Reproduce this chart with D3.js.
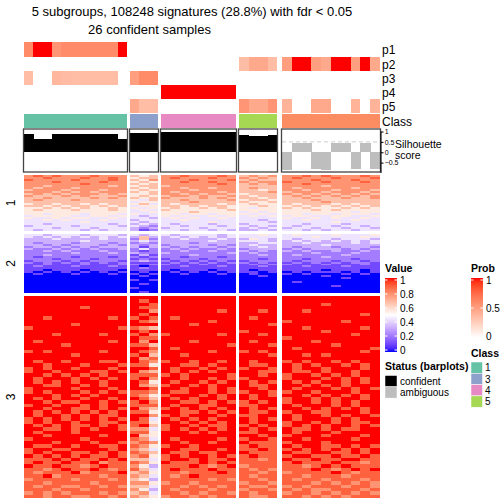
<!DOCTYPE html>
<html><head><meta charset="utf-8">
<script src="https://cdn.jsdelivr.net/npm/d3@7"></script>
<style>body{margin:0;background:#fff}svg{display:block}text{font-family:"Liberation Sans",Arial,sans-serif}</style>
</head><body>
<script>
// ---------------- DATA ----------------
const titleLine1 = "5 subgroups, 108248 signatures (28.8%) with fdr < 0.05";
const titleLine2 = "26 confident samples";
const groupClass = ["1", "3", "4", "5", "2"];
const groupSize = [11, 3, 8, 4, 10];
const classColors = {"1": "#66C2A5", "2": "#FC8D62", "3": "#8DA0CB", "4": "#E78AC3", "5": "#A6D854"};
const legendClasses = ["1", "3", "4", "5"];
const probRows = ["p1", "p2", "p3", "p4", "p5"];
// per-column probabilities (columns in display order)
const p1 = [0.6,1,1,0.55,0.6,0.6,0.6,0.6,0.6,0.6,1, 0,0,0, 0,0,0,0,0,0,0,0, 0,0,0,0, 0,0,0,0,0,0,0,0,0,0];
const p2 = [0,0,0,0,0,0,0,0,0,0,0, 0,0,0, 0,0,0,0,0,0,0,0, 0.35,0.45,0.45,0.35, 0.5,1,1,0.5,0.45,1,1,0.5,1,0.45];
const p3 = [0.35,0,0,0.38,0.36,0.35,0.35,0.35,0.35,0.35,0, 0.5,0.6,0.6, 0,0,0,0,0,0,0,0, 0,0,0,0, 0,0,0,0,0,0,0,0,0,0];
const p4 = [0,0,0,0,0,0,0,0,0,0,0, 0,0,0, 1,1,1,1,1,1,1,1, 0,0,0,0, 0,0,0,0,0,0,0,0,0,0];
const p5 = [0,0,0,0,0,0,0,0,0,0,0, 0.45,0.35,0.35, 0,0,0,0,0,0,0,0, 0.55,0.45,0.45,0.55, 0.4,0,0,0.45,0.45,0,0,0.4,0,0.4];
const silhouette = [0.87,0.63,0.63,0.87,0.87,0.87,0.87,0.87,0.87,0.87,0.63, 0.91,0.95,0.95,
  0.99,0.99,0.99,0.99,0.99,0.99,0.99,0.99, 0.82,0.77,0.77,0.82,
  -0.85,0.44,0.44,-0.79,-0.85,0.44,0.44,-0.79,0.44,-0.79];
const confident = [1,1,1,1,1,1,1,1,1,1,1, 1,1,1, 1,1,1,1,1,1,1,1, 1,1,1,1, 0,0,0,0,0,0,0,0,0,0];
const silTicks = [1, 0.5, 0, -0.5];
const valueTicks = [0, 0.2, 0.4, 0.6, 0.8, 1];
const probTicks = [0, 0.5, 1];
const sliceLabels = ["1", "2", "3"];
// heatmap values, one string per row, digit d means value d/9 (groups separated by spaces)
const slice1 = [
"78787778777 656 77877787 6767 7787877787",
"77877787787 566 78777877 7676 7877787778",
"87777877787 657 77787778 6766 7778777877",
"77787777877 565 77877877 7677 8777877787",
"77777787777 656 77777787 6767 7787777777",
"77677777767 566 67777777 6666 7777677777",
"76777677777 656 77677677 6766 7677777677",
"67776777677 565 77767777 6656 7767767776",
"77767676777 656 76777767 6667 6777677767",
"67676777676 556 77676776 5666 7676767676",
"76667676667 565 67767667 6566 6767676767",
"66766667676 656 76667676 6656 6676667667",
"67666766666 546 66766667 5665 6667666666",
"66666666666 455 66676666 6556 6666766666",
"56656656566 564 65666656 5655 6566656566",
"66565665656 455 66565665 5565 5656565656",
"55656565565 545 56556565 5455 6565556565",
"56555655565 454 65555556 5555 5556565555",
"55555555555 445 55565555 4545 5555555455",
"55455545554 544 55455455 5454 5545545554",
"45555445545 434 54544545 4545 4554455445",
"54454554454 443 45454454 4444 5445454454",
"44545444544 344 44544444 4434 4454444544",
"44444454444 434 44444544 4443 4444454444",
"44344444434 343 43444344 3444 4434443444",
"34444344443 432 44344434 4343 4344434434",
"44434443444 323 34443444 3434 3443443443",
"43444434344 312 44344343 3343 4434344344"];
const slice2 = [
"44344434443 434 43444434 4454 4544454445",
"43434343434 363 34343434 4444 4445444454",
"33343333433 262 33433343 3543 4344434443",
"33333343333 343 33333433 4443 3434343434",
"32333233323 232 33323333 3344 3343333434",
"33232333232 323 23333232 3433 3333433333",
"23323232333 313 32323323 3343 3233323332",
"32232323223 242 23232232 2333 2323332323",
"22323222322 212 22322322 3232 3232232232",
"22222322232 322 32222223 2322 2223222322",
"22322222222 131 22232222 2232 2322223222",
"21222122212 212 22122212 2222 2222322222",
"22212221222 121 12221222 2212 2212222122",
"12221212221 232 21212121 1222 2122212212",
"21212121212 111 12121212 2121 1212121221",
"11211121112 212 21112111 1212 2111211121",
"12111211121 101 11211121 1121 1121112111",
"11111111111 121 11111111 1111 1111111111",
"11011101110 111 10111011 1011 1111011101",
"10101010101 010 01010101 1101 0101110101",
"01000100010 101 00100010 0100 1010001010",
"00000000000 010 00000000 0010 0000100000",
"00000000000 000 00000000 0000 0000001000",
"00000000000 101 00000000 0000 0000000000",
"00000000000 000 00000000 0000 0100000000",
"00000000000 010 00000000 0000 0000000000",
"00000000000 000 00000000 0000 0000010000",
"00000000000 100 00000000 0000 0000000000",
"00000000000 000 00000000 0000 0000000000",
"00000000000 010 00000000 0000 0000000000"];
const slice3 = [
"99999999999 999 99999999 9999 9999999999",
"99999999999 989 99999999 9999 9999999999",
"99999999999 998 99999999 9999 9999899999",
"99999989999 988 99999999 9999 9999999999",
"99999999999 997 99999989 9989 9989999999",
"99999999999 989 99999999 9999 9999999989",
"99899999989 898 98999999 9899 9999999999",
"99999999999 987 99999899 9999 8999998999",
"99999899999 999 99989999 9998 9999999999",
"89999999998 876 99999999 9999 9989999989",
"99999999999 989 99999999 8999 9999899999",
"99989999899 897 89999989 9989 9999999899",
"99999999999 988 99999999 9999 8999999999",
"98999999989 979 99989999 9899 9998999999",
"99998999999 886 99999998 9998 9999989999",
"99999999999 998 98999999 9999 9899999998",
"89899999899 987 99999899 8989 9999999989",
"99999899999 896 99899999 9998 9989899999",
"99999999999 978 99999999 9999 9999999999",
"98998999889 987 89989989 9899 8989989899",
"99899989998 885 99889899 9889 9898998989",
"89899899989 998 98998989 8998 9899899989",
"89989998898 976 98989899 9988 9889899899",
"99898989899 888 89899998 9989 8998989899",
"98999898989 897 99899898 8999 8999898989",
"98989899899 985 98998989 9898 9898998989",
"99889989899 976 89989899 9889 9989898999",
"89999899989 998 99899898 9989 9899989898",
"89899989898 887 98899898 8998 8998999899",
"99989898999 875 89998989 9898 9989898989",
"98989989989 986 98989989 9899 8998989989",
"99898899898 897 99889898 8989 8998989899",
"89989989899 888 98998899 8899 9899989899",
"99899889898 976 89898989 9898 9989898989",
"98989898989 885 99889898 9889 8998899989",
"98998989889 997 89899989 8899 9899898998",
"89898989898 984 98989899 9898 9899989899",
"89899899889 885 99898989 9899 8998989889",
"98989889898 896 89989889 8989 8989899898",
"99889898998 774 89898989 9898 9889898899",
"98999899999 885 99989899 8899 9899989999",
"99899999899 965 99999999 9989 8999899989",
"89999989999 874 98999989 8998 9989999899",
"99989998998 787 99899899 9888 8999899999",
"98899899889 875 89989999 8988 9899889898",
"89988999989 764 99889989 8898 8989898989",
"89899889898 876 98898899 9888 9889988989",
"98989898898 785 89899898 8988 8998898898",
"88898988989 664 89989889 8878 9889889988",
"89889889788 875 98889898 8888 8988898878",
"98898878988 753 88898789 7888 8878989888",
"88789889878 864 89888988 8787 8889878989",
"87888978889 675 88788898 8878 7888898788",
"88978888788 764 87898888 8788 8878887888",
"78888788878 653 88888787 8878 8788788878",
"88788887888 775 78878888 7887 8887878787",
"87887788787 664 88787878 8778 7878887887",
"88878878888 753 87888788 7887 8787788878",
"78787888787 674 88787887 8788 7887878787",
"88788778878 765 78878788 8778 8878787888"];
const slices = [slice1, slice2, slice3];

// ---------------- LAYOUT ----------------
const W = 504, H = 504;
const groupX = [[24, 127], [130, 158], [161, 236], [239, 277], [282, 380]];
const annoY = {p1: [42, 57], p2: [57, 71], p3: [71, 85], p4: [85, 99], p5: [99, 113]};
const classY = [114, 128];
const silBox = [129, 172];
const sliceY = [[175, 231], [234, 293], [296, 498]];

const svg = d3.select("body").append("svg").attr("width", W).attr("height", H);

const valueColor = d3.scaleLinear().domain([0, 0.5, 1]).range(["blue", "white", "red"]).interpolate(d3.interpolateLab);
const probColor = d3.scaleLinear().domain([0, 1]).range(["white", "red"]).interpolate(d3.interpolateLab);

// build columns
const columns = [];
let ci = 0;
groupSize.forEach((n, g) => {
  const xs = d3.scaleBand().domain(d3.range(n)).range(groupX[g]).paddingInner(0).paddingOuter(0);
  for (let k = 0; k < n; k++) {
    columns.push({idx: ci, g, k, x: xs(k), w: xs.bandwidth(), cls: groupClass[g]});
    ci++;
  }
});
const probs = {p1, p2, p3, p4, p5};

// titles
svg.append("text").attr("x", 192).attr("y", 16).attr("text-anchor", "middle").attr("font-size", 13).text(titleLine1);
svg.append("text").attr("x", 149.5).attr("y", 34).attr("text-anchor", "middle").attr("font-size", 13).text(titleLine2);

// probability annotation rows
probRows.forEach(r => {
  const [y0, y1] = annoY[r];
  svg.append("g").selectAll("rect").data(columns).join("rect")
    .attr("x", d => d.x).attr("y", y0).attr("width", d => d.w).attr("height", y1 - y0)
    .attr("fill", d => probColor(probs[r][d.idx])).attr("shape-rendering", "crispEdges");
  svg.append("text").attr("x", 382).attr("y", (y0 + y1) / 2 + 4.5).attr("font-size", 12).text(r);
});
// class row
svg.append("g").selectAll("rect").data(columns).join("rect")
  .attr("x", d => d.x).attr("y", classY[0]).attr("width", d => d.w + 0.3).attr("height", classY[1] - classY[0])
  .attr("fill", d => classColors[d.cls]).attr("shape-rendering", "crispEdges");
svg.append("text").attr("x", 382).attr("y", (classY[0] + classY[1]) / 2 + 4.5).attr("font-size", 12).text("Class");

// silhouette
const sy = d3.scaleLinear().domain([-1, 1]).range([173, 131.5]);
const silG = svg.append("g");
groupX.forEach(([x0, x1]) => {
  silG.append("line").attr("x1", x0).attr("x2", x1).attr("y1", sy(0.5)).attr("y2", sy(0.5))
    .attr("stroke", "#cccccc").attr("stroke-dasharray", "4,3").attr("stroke-width", 1);
});
silG.selectAll("rect.bar").data(columns).join("rect").attr("class", "bar")
  .attr("x", d => d.x).attr("width", d => d.w + 0.3)
  .attr("y", d => Math.min(sy(silhouette[d.idx]), sy(0)))
  .attr("height", d => Math.abs(sy(silhouette[d.idx]) - sy(0)))
  .attr("fill", d => confident[d.idx] ? "black" : "#BEBEBE").attr("shape-rendering", "crispEdges");
groupX.forEach(([x0, x1]) => {
  silG.append("rect").attr("x", x0 - 0.5).attr("y", silBox[0]).attr("width", x1 - x0 + 1).attr("height", silBox[1] - silBox[0])
    .attr("fill", "none").attr("stroke", "#444").attr("stroke-width", 1.3);
});
const silAxis = d3.axisRight(sy).tickValues(silTicks).tickSize(2.5).tickPadding(1.2).tickFormat(d3.format("~g"));
const ax = svg.append("g").attr("transform", "translate(381,0)").call(silAxis);
ax.select(".domain").attr("d", `M0,${sy(1)}V${sy(-1)}`).attr("stroke", "black");
ax.selectAll("text").attr("font-size", 7).attr("font-family", "Liberation Sans, Arial, sans-serif");
svg.append("text").attr("x", 395).attr("y", 148).attr("font-size", 10.5).text("Silhouette");
svg.append("text").attr("x", 395).attr("y", 158.5).attr("font-size", 10.5).text("score");

// heatmap
slices.forEach((rows, s) => {
  const ys = d3.scaleBand().domain(d3.range(rows.length)).range(sliceY[s]);
  const cells = [];
  rows.forEach((str, r) => {
    const digits = str.replace(/ /g, "");
    columns.forEach(c => cells.push({c, r, v: +digits[c.idx] / 9}));
  });
  svg.append("g").selectAll("rect").data(cells).join("rect")
    .attr("x", d => d.c.x).attr("y", d => ys(d.r))
    .attr("width", d => d.c.w + 0.3).attr("height", ys.bandwidth() + 0.3)
    .attr("fill", d => valueColor(d.v)).attr("shape-rendering", "crispEdges");
  const cy = (sliceY[s][0] + sliceY[s][1]) / 2;
  svg.append("text").attr("transform", `translate(15,${cy}) rotate(-90)`).attr("text-anchor", "middle")
    .attr("font-size", 12).text(sliceLabels[s]);
});

// legends
const lg = svg.append("g");
function colorbar(x, y0, y1, scale, ticks, title, titleY) {
  lg.append("text").attr("x", x).attr("y", titleY).attr("font-size", 10.5).attr("font-weight", "bold").text(title);
  const gid = "grad" + title;
  const grad = svg.append("defs").append("linearGradient").attr("id", gid).attr("x1", 0).attr("x2", 0).attr("y1", 1).attr("y2", 0);
  d3.range(0, 1.0001, 0.05).forEach(t => grad.append("stop").attr("offset", t).attr("stop-color", scale(scale.domain()[0] + t * (scale.domain()[scale.domain().length - 1] - scale.domain()[0]))));
  lg.append("rect").attr("x", x).attr("y", y0).attr("width", 12).attr("height", y1 - y0).attr("fill", `url(#${gid})`);
  const ty = d3.scaleLinear().domain([0, 1]).range([y1 - 2, y0 + 2]);
  ticks.forEach(t => {
    lg.append("line").attr("x1", x).attr("x2", x + 2.5).attr("y1", ty(t)).attr("y2", ty(t)).attr("stroke", "white");
    lg.append("line").attr("x1", x + 9.5).attr("x2", x + 12).attr("y1", ty(t)).attr("y2", ty(t)).attr("stroke", "white");
    lg.append("text").attr("x", x + 15).attr("y", ty(t) + 3.6).attr("font-size", 10).text(d3.format("~g")(t));
  });
}
colorbar(385, 278, 352, valueColor, valueTicks, "Value", 272);
colorbar(471, 278, 338, probColor, probTicks, "Prob", 272);

lg.append("text").attr("x", 471).attr("y", 357).attr("font-size", 10.5).attr("font-weight", "bold").text("Class");
legendClasses.forEach((c, i) => {
  const y = 362 + i * 11.3;
  lg.append("rect").attr("x", 471).attr("y", y).attr("width", 11.5).attr("height", 11.3).attr("fill", classColors[c]).attr("stroke", "white").attr("stroke-width", 0.5);
  lg.append("text").attr("x", 485).attr("y", y + 9.3).attr("font-size", 10).text(c);
});

lg.append("text").attr("x", 385).attr("y", 370).attr("font-size", 10.5).attr("font-weight", "bold").text("Status (barplots)");
[["confident", "black"], ["ambiguous", "#BEBEBE"]].forEach(([lab, col], i) => {
  const y = 375.5 + i * 11.3;
  lg.append("rect").attr("x", 385).attr("y", y).attr("width", 12).attr("height", 11.3).attr("fill", col).attr("stroke", "white").attr("stroke-width", 0.5);
  lg.append("text").attr("x", 400).attr("y", y + 9.3).attr("font-size", 10).text(lab);
});
</script>
</body></html>
